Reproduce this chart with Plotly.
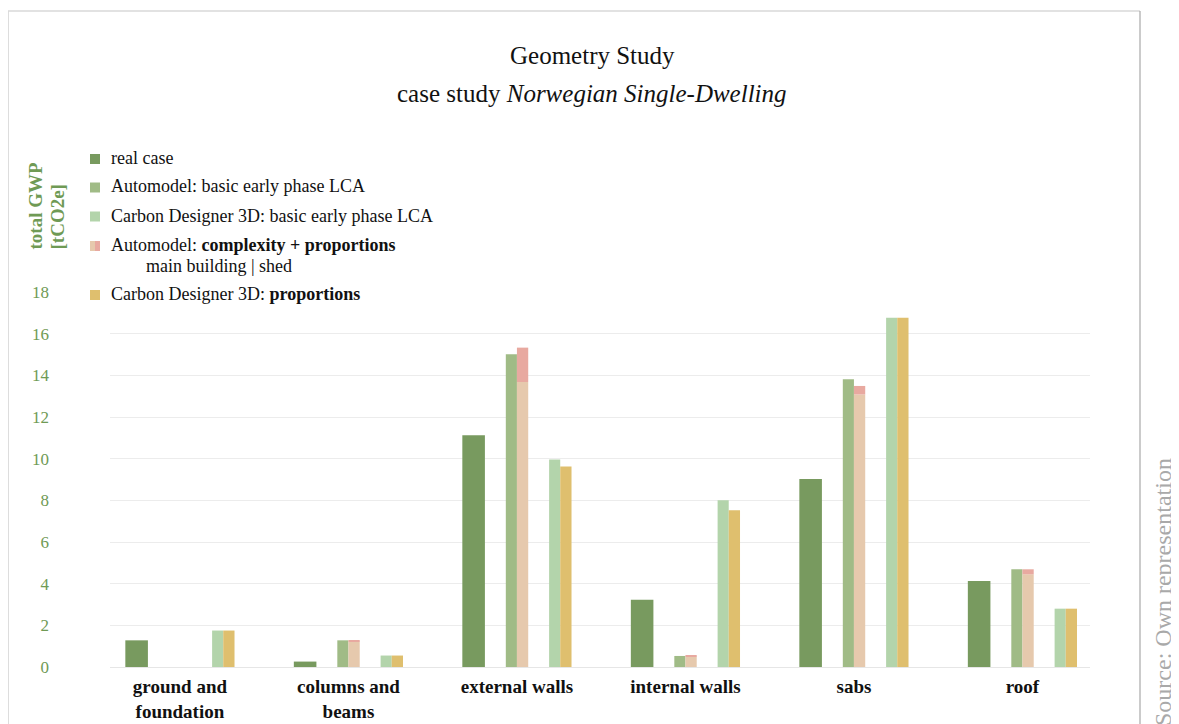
import plotly.graph_objects as go

# ---- data ----
categories = ["ground and<br>foundation", "columns and<br>beams", "external walls",
              "internal walls", "sabs", "roof"]
real_case = [1.28, 0.26, 11.12, 3.23, 9.02, 4.13]
auto_basic = [0.0, 1.28, 15.01, 0.53, 13.81, 4.69]
auto_main = [0.0, 1.22, 13.68, 0.50, 13.08, 4.45]
auto_shed = [0.0, 0.06, 1.65, 0.03, 0.41, 0.24]
cd_basic = [1.75, 0.55, 9.96, 8.00, 16.77, 2.80]
cd_prop = [1.75, 0.55, 9.63, 7.52, 16.77, 2.80]
y_ticks = [0, 2, 4, 6, 8, 10, 12, 14, 16, 18]

legend_labels = [
    "real case",
    "Automodel: basic early phase LCA",
    "Carbon Designer 3D: basic early phase LCA",
    "Automodel: <b>complexity + proportions</b>",
    "Carbon Designer 3D: <b>proportions</b>",
]
legend_sub = "main building | shed"

# ---- styles ----
C_REAL = "#789a5f"
C_ABAS = "#a0bb86"
C_CBAS = "#b3d4ab"
C_AMAIN = "#e6c9ad"
C_ASHED = "#e8a9a0"
C_CPROP = "#dfbf6e"
GREEN_TXT = "#6f9a55"
FONT = "Liberation Serif"

OFF = 8  # page offset of the figure inside the browser window
W, H = 1179, 724
ML, MR, MT, MB = 102, 97, 284, 65
PW, PH = W - ML - MR, H - MT - MB


def fx(sx):
    return (sx - OFF - ML) / PW


def fy(sy):
    return (H - MB - (sy - OFF)) / PH


fig = go.Figure()


def add_bar(y, color, offset, width, base=None):
    fig.add_trace(go.Bar(
        x=categories, y=y, base=base, offset=offset, width=width,
        marker=dict(color=color, line=dict(width=0)),
        showlegend=False, hoverinfo="y"))


add_bar(real_case, C_REAL, -0.324, 0.134)
add_bar(auto_basic, C_ABAS, -0.066, 0.066)
add_bar(auto_main, C_AMAIN, 0.0, 0.067)
add_bar(auto_shed, C_ASHED, 0.0, 0.067, base=auto_main)
add_bar(cd_basic, C_CBAS, 0.191, 0.066)
add_bar(cd_prop, C_CPROP, 0.257, 0.067)

annotations = []
shapes = []

# titles
annotations.append(dict(x=fx(592), y=fy(55), xref="paper", yref="paper",
                        text="Geometry Study", showarrow=False,
                        font=dict(family=FONT, size=25, color="#111"),
                        xanchor="center", yanchor="middle"))
annotations.append(dict(x=fx(592), y=fy(93), xref="paper", yref="paper",
                        text="case study <i>Norwegian Single-Dwelling</i>", showarrow=False,
                        font=dict(family=FONT, size=25, color="#111"),
                        xanchor="center", yanchor="middle"))

# y-axis title (two rotated lines)
for txt, xp in [("total GWP", 35), ("[tCO2e]", 57)]:
    annotations.append(dict(x=fx(xp), y=fy(252), xref="paper", yref="paper",
                            text="<b>%s</b>" % txt, showarrow=False, textangle=-90,
                            font=dict(family=FONT, size=19, color=GREEN_TXT),
                            xanchor="center", yanchor="bottom"))

# custom legend
leg_y = [158, 186.5, 215.5, 245, 294]
leg_colors = [C_REAL, C_ABAS, C_CBAS, None, C_CPROP]
for i, (lab, yy) in enumerate(zip(legend_labels, leg_y)):
    annotations.append(dict(x=fx(109), y=fy(yy), xref="paper", yref="paper",
                            text=lab, showarrow=False, bgcolor="white",
                            font=dict(family=FONT, size=18, color="#111"),
                            xanchor="left", yanchor="middle"))
    my = yy + 1
    if leg_colors[i] is not None:
        shapes.append(dict(type="rect", xref="paper", yref="paper",
                           x0=fx(90), x1=fx(100), y0=fy(my - 5), y1=fy(my + 5),
                           fillcolor=leg_colors[i], line=dict(width=0), layer="above"))
    else:
        shapes.append(dict(type="rect", xref="paper", yref="paper",
                           x0=fx(90), x1=fx(95), y0=fy(my - 5), y1=fy(my + 5),
                           fillcolor=C_AMAIN, line=dict(width=0), layer="above"))
        shapes.append(dict(type="rect", xref="paper", yref="paper",
                           x0=fx(95), x1=fx(100), y0=fy(my - 5), y1=fy(my + 5),
                           fillcolor=C_ASHED, line=dict(width=0), layer="above"))
annotations.append(dict(x=fx(144), y=fy(265.5), xref="paper", yref="paper",
                        text=legend_sub, showarrow=False,
                        font=dict(family=FONT, size=18, color="#111"),
                        xanchor="left", yanchor="middle"))

# source note
annotations.append(dict(x=fx(1163), y=fy(728), xref="paper", yref="paper",
                        text="Source: Own representation", showarrow=False, textangle=-90,
                        font=dict(family=FONT, size=24, color="#a9a9a9"),
                        xanchor="center", yanchor="bottom"))

# frame
shapes.append(dict(type="line", xref="paper", yref="paper",
                   x0=fx(8), x1=fx(8), y0=fy(11), y1=fy(740),
                   line=dict(color="#d2d2d2", width=1.5)))
shapes.append(dict(type="line", xref="paper", yref="paper",
                   x0=fx(8), x1=fx(1140), y0=fy(11), y1=fy(11),
                   line=dict(color="#d8d8d8", width=1.5)))
shapes.append(dict(type="line", xref="paper", yref="paper",
                   x0=fx(1140), x1=fx(1140), y0=fy(11), y1=fy(740),
                   line=dict(color="#a8a8a8", width=1.2)))

fig.update_layout(
    width=W, height=H,
    margin=dict(l=ML, r=MR, t=MT, b=MB, pad=0),
    paper_bgcolor="white", plot_bgcolor="white",
    barmode="overlay",
    showlegend=False,
    font=dict(family=FONT, size=18, color="#111"),
    annotations=annotations,
    shapes=shapes,
    xaxis=dict(type="category", range=[-0.415, 5.401], showgrid=False,
               showline=False, zeroline=False, ticks="", automargin=False,
               tickvals=categories,
               ticktext=["<b>%s</b>" % c.replace("<br>", "</b><br><b>") for c in categories],
               ticklabelstandoff=6,
               tickfont=dict(family=FONT, size=19, color="#111")),
    yaxis=dict(range=[0, 18], tickvals=y_ticks, showgrid=True, automargin=False,
               gridcolor="#ececec", gridwidth=1, zeroline=True,
               zerolinecolor="#e6e6e6", zerolinewidth=1, showline=False,
               ticks="", ticklabelstandoff=60,
               tickfont=dict(family=FONT, size=17, color=GREEN_TXT)),
)

fig.write_html("out.html")
